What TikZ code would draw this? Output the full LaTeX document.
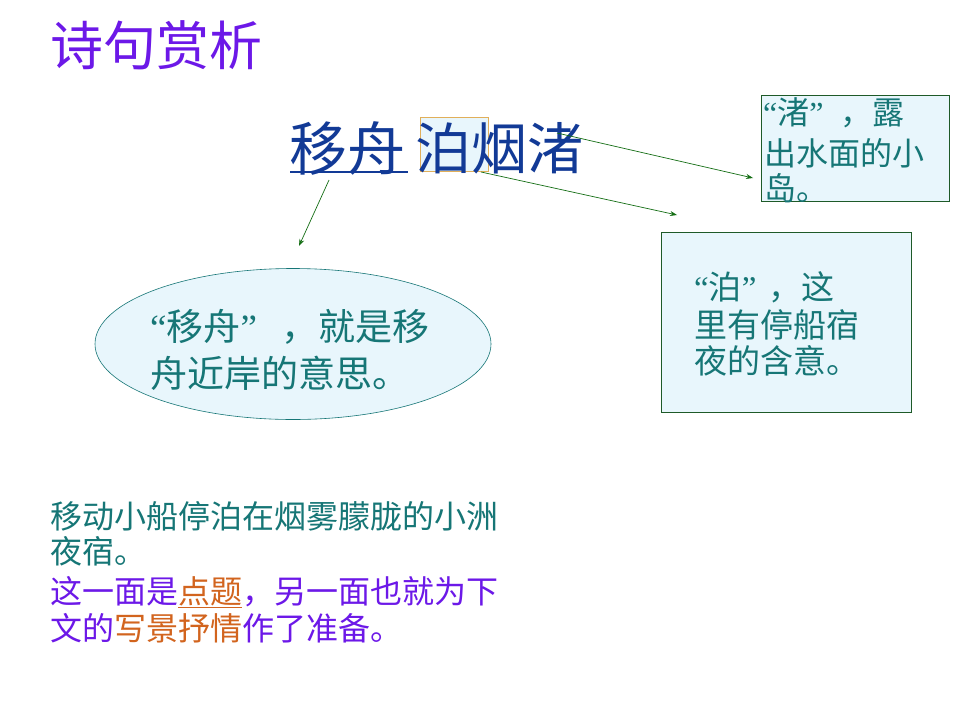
\documentclass[tikz,border=0pt]{standalone}
\usepackage{fontspec}
\setmainfont{Noto Sans CJK SC}
\newfontfamily\qf{Liberation Serif}
\usetikzlibrary{arrows.meta,shapes.geometric}
\definecolor{titlepurple}{RGB}{108,24,232}
\definecolor{mainblue}{RGB}{18,58,150}
\definecolor{txtteal}{RGB}{22,118,118}
\definecolor{boxfill}{RGB}{232,246,252}
\definecolor{boxline}{RGB}{30,90,40}
\definecolor{arrgreen}{RGB}{20,110,20}
\definecolor{orangeT}{RGB}{210,100,30}
\definecolor{hlorange}{RGB}{225,175,90}
\newcommand{\myLq}{{\qf “}}
\newcommand{\myRq}{{\qf ”}}
\tikzset{
  fs/.style={font=\fontsize{#1}{#1}\selectfont},
  line/.style={anchor=west, inner sep=0pt},
  notebox/.style={draw=boxline, fill=boxfill, line width=0.8pt, inner sep=0pt},
  conn/.style={draw=arrgreen, line width=0.7pt, -{Stealth[length=7pt,width=5pt]}},
}
\begin{document}
\begin{tikzpicture}[x=1pt,y=-1pt]
\useasboundingbox[fill=white] (0,0) rectangle (960,720);
% title
\node[line, fs=53, text=titlepurple] (title) at (50,45) {诗句赏析};
% highlight box behind 泊
\node[draw=hlorange, fill=boxfill, line width=0.8pt, minimum width=68pt, minimum height=54pt, inner sep=0pt] (hb) at (454,144) {};
% main line
\node[line, fs=58, text=mainblue] (mainA) at (289,148) {移舟};
\node[line, fs=56, text=mainblue] (mainB) at (415,148) {泊烟渚};
\draw[mainblue, line width=2.5pt] (290,172) -- (408,172);
% note boxes
\node[notebox, minimum width=188pt, minimum height=106pt] (bz) at (855,148) {};
\node[line, fs=32, text=txtteal] (bz1) at (763,113) {\myLq 渚\myRq\hspace{17pt}，露};
\node[line, fs=32, text=txtteal] (bz2) at (764,153) {出水面的小};
\node[line, fs=32, text=txtteal] (bz3) at (764,188) {岛。};
\node[notebox, minimum width=250pt, minimum height=180pt] (bb) at (786,322) {};
\node[line, fs=33, text=txtteal] (bb1) at (694,287) {\myLq 泊\myRq\hspace{12pt}，这};
\node[line, fs=33, text=txtteal] (bb2) at (694,325) {里有停船宿};
\node[line, fs=33, text=txtteal] (bb3) at (694,361) {夜的含意。};
\node[ellipse, draw=txtteal, fill=boxfill, line width=0.6pt, minimum width=396pt, minimum height=151pt, inner sep=0pt] (el) at (293,344) {};
\node[line, fs=37, text=txtteal] (el1) at (150,327) {\myLq 移舟\myRq\hspace{24pt}，就是移};
\node[line, fs=37, text=txtteal] (el2) at (150,373) {舟近岸的意思。};
% connectors
\coordinate (s1) at (329,180); \coordinate (e1) at (299,246);
\coordinate (s2) at (481,172); \coordinate (e2) at (677,215);
\coordinate (s3) at (557,133); \coordinate (e3) at (753,178);
\draw[conn] (s1) -- (e1);
\draw[conn] (s2) -- (e2);
\draw[conn] (s3) -- (e3);
% bottom text
\node[line, fs=32, text=txtteal] (t1) at (50,516) {移动小船停泊在烟雾朦胧的小洲};
\node[line, fs=32, text=txtteal] (t2) at (50,551) {夜宿。};
\node[line, fs=32, text=titlepurple] (t3) at (50,592) {这一面是{\color{orangeT}\underline{点题}}，另一面也就为下};
\node[line, fs=32, text=titlepurple] (t4) at (50,628) {文的{\color{orangeT}写景抒情}作了准备。};
\end{tikzpicture}
\end{document}
